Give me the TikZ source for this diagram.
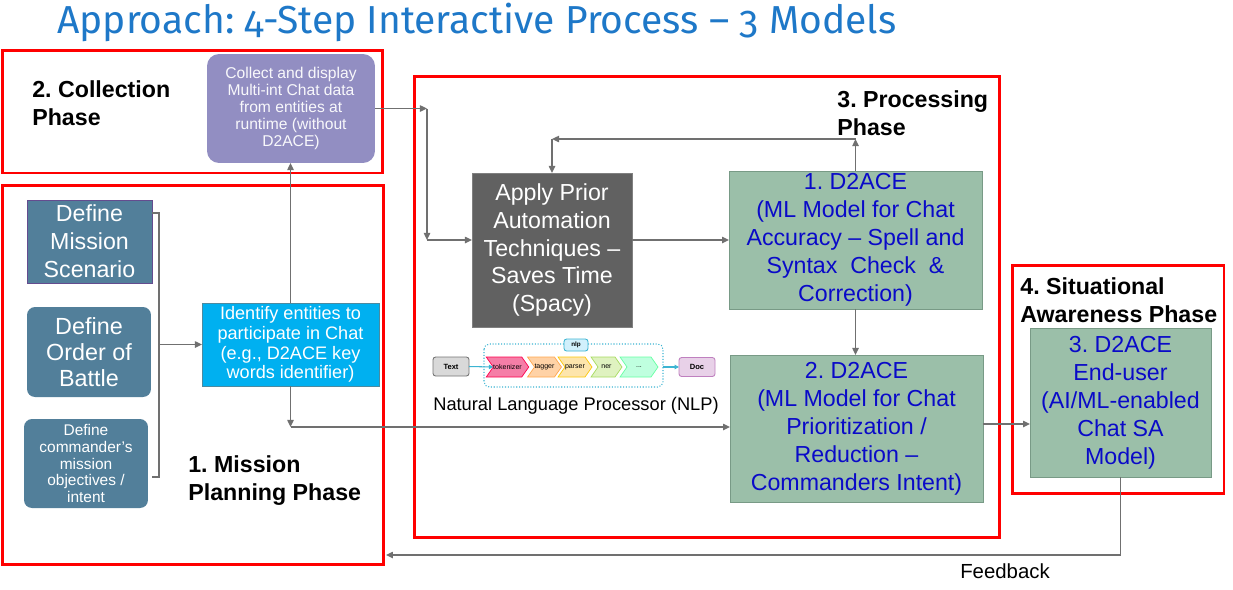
\documentclass[tikz,border=0pt]{standalone}
\usepackage{fontspec}
\setmainfont{Liberation Sans}
\newfontfamily\titlefont[Numbers=OldStyle]{Fira Sans}
\usepackage{tikz}
\usetikzlibrary{arrows.meta,shapes.symbols}
\frenchspacing

\definecolor{phasered}{RGB}{255,0,0}
\definecolor{titleblue}{RGB}{30,120,200}
\definecolor{collectfill}{RGB}{146,142,194}
\definecolor{steelfill}{RGB}{82,127,154}
\definecolor{identfill}{RGB}{0,176,240}
\definecolor{applyfill}{RGB}{97,97,97}
\definecolor{sagefill}{RGB}{155,191,169}
\definecolor{sageline}{RGB}{120,154,134}
\definecolor{modeltext}{RGB}{10,10,200}
\definecolor{linkgray}{RGB}{112,112,112}
\definecolor{nlpcyan}{RGB}{60,180,210}

\begin{document}
\begin{tikzpicture}[x=0.02cm, y=-0.02cm,
  phase/.style={draw=phasered, line width=1.7pt, inner sep=0pt, outer sep=0pt},
  phaselabel/.style={anchor=north west, inner sep=0pt, align=left, font=\fontsize{13.2}{16.4}\selectfont\bfseries},
  box/.style={inner sep=0pt, outer sep=0pt, align=center, text=white, line width=0.5pt},
  bigtext/.style={font=\fontsize{13.2}{15.9}\selectfont},
  model/.style={box, bigtext, fill=sagefill, draw=sageline, text=modeltext},
  link/.style={draw=linkgray, line width=0.8pt},
  arr/.style={link, -{Triangle[length=4pt, width=3.6pt]}},
  stage/.style={shape=signal, signal from=west, signal to=east, signal pointer angle=110, inner sep=0pt, outer sep=0pt, minimum height=0.4cm, line width=0.4pt, font=\fontsize{4}{5}\selectfont},
  chip/.style={draw, rounded corners=1.5pt, inner sep=0pt, outer sep=0pt, line width=0.5pt, font=\fontsize{4.3}{5}\selectfont\bfseries}
]
  \useasboundingbox (0,0) rectangle (1233,589);

  \node[anchor=base west, inner sep=0pt, text=titleblue, font=\fontsize{22.2}{25}\titlefont] (title) at (57,33) {Approach: 4-Step Interactive Process – 3 Models};

  \node[phase, minimum width=7.62cm, minimum height=2.46cm] (collection) at (192.5,111.5) {};
  \node[phase, minimum width=7.64cm, minimum height=7.6cm] (mission) at (193,375) {};
  \node[phase, minimum width=11.72cm, minimum height=9.24cm] (processing) at (707,307) {};
  \node[phase, minimum width=4.24cm, minimum height=4.58cm] (awareness) at (1118,379.5) {};

  \node[phaselabel] (collectionlabel) at (32,80) {2. Collection\\Phase};
  \node[phaselabel] (missionlabel) at (188,455) {1. Mission\\Planning Phase};
  \node[phaselabel] (processinglabel) at (837,90) {3. Processing\\Phase};
  \node[phaselabel] (awarenesslabel) at (1020,277) {4. Situational\\Awareness Phase};

  \node[box, fill=collectfill, rounded corners=0.24cm, minimum width=3.36cm, minimum height=2.18cm, text=white!94!collectfill, font=\fontsize{8.9}{9.6}\selectfont] (collect) at (291,108.5) {Collect and display\\Multi-int Chat data\\from entities at\\runtime (without\\D2ACE)};

  \node[box, bigtext, fill=steelfill, draw=steelfill!60!violet, minimum width=2.5cm, minimum height=1.66cm] (scenario) at (89.5,241.5) {Define\\Mission\\Scenario};
  \node[box, fill=steelfill, rounded corners=0.16cm, minimum width=2.48cm, minimum height=1.8cm, font=\fontsize{13.3}{14.7}\selectfont] (battle) at (89,352) {Define\\Order of\\Battle};
  \node[box, fill=steelfill, rounded corners=0.16cm, minimum width=2.48cm, minimum height=1.78cm, font=\fontsize{8.8}{9.6}\selectfont] (intent) at (86,463.5) {Define\\commander's\\mission\\objectives /\\intent};

  \node[box, fill=identfill, draw=identfill!50!black!70, minimum width=3.54cm, minimum height=1.66cm, font=\fontsize{10.3}{11.3}\selectfont] (identify) at (290.5,344.5) {Identify entities to\\participate in Chat\\(e.g., D2ACE key\\words identifier)};

  \node[box, bigtext, fill=applyfill, draw=gray, minimum width=3.2cm, minimum height=3.08cm] (apply) at (552,250) {Apply Prior\\Automation\\Techniques --\\Saves Time\\(Spacy)};

  \node[model, minimum width=5.06cm, minimum height=2.76cm] (dace1) at (855.5,240) {1. D2ACE\\(ML Model for Chat\\Accuracy -- Spell and\\Syntax~ Check~ \&\\Correction)};
  \node[model, minimum width=5.06cm, minimum height=2.94cm] (dace2) at (856.5,428.5) {2. D2ACE\\(ML Model for Chat\\Prioritization /\\Reduction --\\Commanders Intent)};
  \node[model, minimum width=3.62cm, minimum height=2.98cm] (dace3) at (1120.5,402.5) {3. D2ACE\\End-user\\(AI/ML-enabled\\Chat SA\\Model)};

  \draw[nlpcyan, densely dotted, line width=0.6pt, rounded corners=3pt] (484,344) rectangle (663,387);
  \node[chip, fill=gray!30, draw=gray!110, minimum width=0.72cm, minimum height=0.38cm] (textchip) at (451,366.5) {Text};
  \node[chip, fill=cyan!18, draw=nlpcyan, minimum width=0.48cm, minimum height=0.24cm, font=\fontsize{3.6}{4}\selectfont\bfseries] (nlpchip) at (576,345) {nlp};
  \node[stage, fill=magenta!35!pink, draw=red!70!magenta, minimum width=0.78cm] (tokenizer) at (507.5,367) {tokenizer};
  \node[stage, fill=orange!35, draw=orange!70, minimum width=0.62cm] (tagger) at (544.5,367) {tagger};
  \node[stage, fill=yellow!40!orange!30, draw=yellow!60!orange, minimum width=0.68cm] (parser) at (575,367) {parser};
  \node[stage, fill=yellow!50!green!25, draw=yellow!50!green!70, minimum width=0.62cm] (ner) at (606.5,367) {ner};
  \node[stage, fill=green!50!cyan!25, draw=green!60!cyan!60, minimum width=0.76cm] (more) at (639,367) {...};
  \node[chip, fill=violet!18, draw=violet!50, minimum width=0.72cm, minimum height=0.38cm] (docchip) at (697,367) {Doc};
  \coordinate (nlpout) at (663,367);
  \draw[nlpcyan, line width=0.6pt, -{Triangle[length=2.5pt, width=2.5pt]}] (textchip.east) -- (tokenizer.west);
  \draw[nlpcyan, line width=0.6pt, -{Triangle[length=2.5pt, width=2.5pt]}] (nlpout) -- (docchip.west);
  \node[inner sep=0pt, font=\fontsize{10.4}{12}\selectfont] (nlplabel) at (576,406) {Natural Language Processor (NLP)};

  \coordinate (b1) at (159,213);
  \coordinate (b2) at (159,477);
  \draw[link] (b1 -| scenario.east) -- (b1) -- (b2) -- ([xshift=0.08cm]b2 -| intent.east);
  \draw[arr] (b1 |- identify.west) -- (identify.west);
  \draw[arr] (identify.north) -- (identify.north |- collect.south);

  \coordinate (j1) at (427,108.5);
  \coordinate (j2) at (427,240);
  \draw[arr] (collect.east) -- (j1);
  \draw[arr] (j1) -- (j2);
  \draw[arr] (j2) -- (j2 -| apply.west);
  \draw[arr] (dace1.west -| apply.east) -- (dace1.west);

  \coordinate (j3) at (855.5,139);
  \coordinate (j4) at (552,139);
  \draw[arr] (dace1.north) -- (j3);
  \draw[arr] (j3) -- (j4);
  \draw[arr] (j4) -- (apply.north);
  \draw[arr] (dace1.south) -- (dace1.south |- dace2.north);

  \coordinate (j5) at (290.5,427);
  \draw[arr] (identify.south) -- (j5);
  \draw[arr] (j5) -- (j5 -| dace2.west);

  \coordinate (j6) at (1000,424);
  \draw[arr] (j6 -| dace2.east) -- (j6 -| dace3.west);

  \coordinate (fb) at (1120.5,555);
  \draw[arr] (dace3.south) -- (fb) -- ([xshift=0.04cm]fb -| mission.east);
  \node[inner sep=0pt, font=\fontsize{11.6}{13}\selectfont] (feedback) at (1005,571) {Feedback};
\end{tikzpicture}
\end{document}
